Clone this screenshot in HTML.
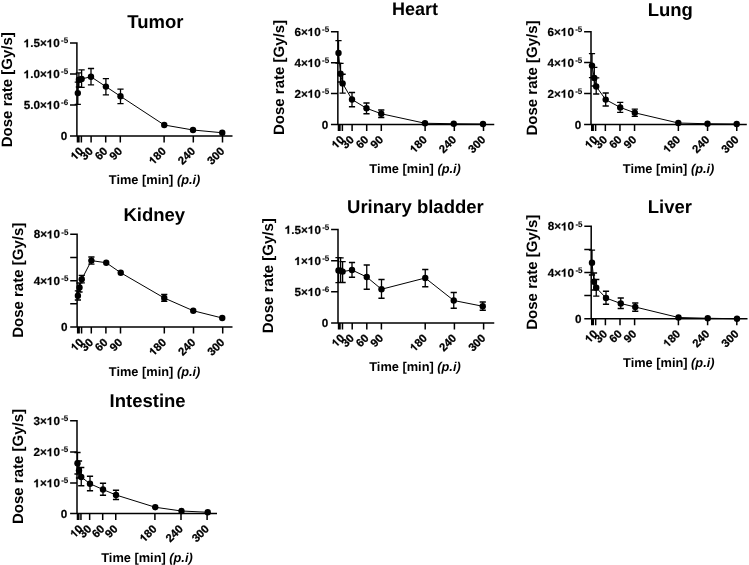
<!DOCTYPE html>
<html><head><meta charset="utf-8"><title>Dose rate</title>
<style>
html,body{margin:0;padding:0;background:#fff;}
svg{display:block;text-rendering:geometricPrecision;will-change:transform;filter:grayscale(1);font-family:"Liberation Sans",sans-serif;font-weight:bold;fill:#000;}
.ax{stroke:#000;stroke-width:1.5;fill:none;}
.eb{stroke:#000;stroke-width:1.3;fill:none;}
.ln{stroke:#000;stroke-width:1;fill:none;}
.tt{font-size:18.5px;text-anchor:middle;}
.yl{font-size:15px;text-anchor:middle;}
.xl{font-size:12.8px;text-anchor:middle;}
.yt{font-size:11.7px;text-anchor:end;stroke:#000;stroke-width:0.2px;}
.xt{font-size:11.3px;text-anchor:end;stroke:#000;stroke-width:0.3px;}
.sp{font-size:8px;}
.ytm{font-size:11.7px;stroke:#000;stroke-width:0.2px;}
.yts{font-size:8px;stroke:#000;stroke-width:0.1px;}
.xtm{font-size:11.3px;stroke:#000;stroke-width:0.25px;}
</style></head><body>
<svg width="749" height="565" viewBox="0 0 749 565">
<rect width="749" height="565" fill="#fff" stroke="none"/>
<g>
<text class="tt" x="155.4" y="27.8">Tumor</text>
<text class="yl" transform="translate(11.6,89.7) rotate(-90)">Dose rate [Gy/s]</text>
<text class="xl" x="154.6" y="184.3">Time [min] <tspan font-style="italic">(p.i)</tspan></text>
<path class="ax" d="M76.9,42.25V136.0M70.0,136.0H232.5M70.0,43H76.9M70.0,74H76.9M70.0,105H76.9M77.47,136.0V142.5M78.93,136.0V142.5M81.37,136.0V142.5M91.1,136.0V142.5M105.7,136.0V142.5M120.3,136.0V142.5M164.11,136.0V142.5M193.31,136.0V142.5M222.51,136.0V142.5"/>
<path d="M759,0H478V1013.6Q324,875.8 115,809.7V1053.8Q225,1088.3 354,1184.5Q483,1280.7 531,1409H759Z" transform="translate(23.68,47.20) scale(0.00571,-0.00571)" stroke="#000" stroke-width="35.0"/><text class="ytm" x="30.18" y="47.20">.5×</text><path d="M759,0H478V1013.6Q324,875.8 115,809.7V1053.8Q225,1088.3 354,1184.5Q483,1280.7 531,1409H759Z" transform="translate(46.77,47.20) scale(0.00571,-0.00571)" stroke="#000" stroke-width="35.0"/><text class="ytm" x="53.28" y="47.20">0</text><text class="yts" x="61.09" y="43.30">-5</text>
<path d="M759,0H478V1013.6Q324,875.8 115,809.7V1053.8Q225,1088.3 354,1184.5Q483,1280.7 531,1409H759Z" transform="translate(23.68,78.20) scale(0.00571,-0.00571)" stroke="#000" stroke-width="35.0"/><text class="ytm" x="30.18" y="78.20">.0×</text><path d="M759,0H478V1013.6Q324,875.8 115,809.7V1053.8Q225,1088.3 354,1184.5Q483,1280.7 531,1409H759Z" transform="translate(46.77,78.20) scale(0.00571,-0.00571)" stroke="#000" stroke-width="35.0"/><text class="ytm" x="53.28" y="78.20">0</text><text class="yts" x="61.09" y="74.30">-5</text>
<text class="ytm" x="23.68" y="109.20">5.0×</text><path d="M759,0H478V1013.6Q324,875.8 115,809.7V1053.8Q225,1088.3 354,1184.5Q483,1280.7 531,1409H759Z" transform="translate(46.77,109.20) scale(0.00571,-0.00571)" stroke="#000" stroke-width="35.0"/><text class="ytm" x="53.28" y="109.20">0</text><text class="yts" x="61.09" y="105.30">-6</text>
<text class="ytm" x="60.69" y="140.20">0</text>
<g transform="translate(83.97,151.90) rotate(-45)"><path d="M759,0H478V1013.6Q324,875.8 115,809.7V1053.8Q225,1088.3 354,1184.5Q483,1280.7 531,1409H759Z" transform="translate(-12.57,0.00) scale(0.00552,-0.00552)" stroke="#000" stroke-width="45.3"/><text class="xtm" x="-6.28" y="0.00">0</text></g>
<g transform="translate(93.70,151.90) rotate(-45)"><text class="xtm" x="-12.57" y="0.00">30</text></g>
<g transform="translate(108.30,151.90) rotate(-45)"><text class="xtm" x="-12.57" y="0.00">60</text></g>
<g transform="translate(122.90,151.90) rotate(-45)"><text class="xtm" x="-12.57" y="0.00">90</text></g>
<g transform="translate(166.71,151.90) rotate(-45)"><path d="M759,0H478V1013.6Q324,875.8 115,809.7V1053.8Q225,1088.3 354,1184.5Q483,1280.7 531,1409H759Z" transform="translate(-18.85,0.00) scale(0.00552,-0.00552)" stroke="#000" stroke-width="45.3"/><text class="xtm" x="-12.57" y="0.00">80</text></g>
<g transform="translate(195.91,151.90) rotate(-45)"><text class="xtm" x="-18.85" y="0.00">240</text></g>
<g transform="translate(225.11,151.90) rotate(-45)"><text class="xtm" x="-18.85" y="0.00">300</text></g>
<polyline class="ln" points="77.8,93.1 78.9,79.8 81.6,78.9 91.0,76.8 105.9,86.6 120.5,96.3 164.25,125 193,130 222.25,132.75"/>
<path class="eb" d="M77.8,82.1V104.4M74.7,82.1H80.89999999999999M74.7,104.4H80.89999999999999M78.9,72.9V87M75.80000000000001,72.9H82.0M75.80000000000001,87H82.0M81.6,69.8V87.4M78.5,69.8H84.69999999999999M78.5,87.4H84.69999999999999M91.0,68.5V84.8M87.9,68.5H94.1M87.9,84.8H94.1M105.9,78.6V94.8M102.80000000000001,78.6H109.0M102.80000000000001,94.8H109.0M120.5,89.1V103.7M117.4,89.1H123.6M117.4,103.7H123.6"/>
<circle cx="77.8" cy="93.1" r="3.2"/>
<circle cx="78.9" cy="79.8" r="3.2"/>
<circle cx="81.6" cy="78.9" r="3.2"/>
<circle cx="91.0" cy="76.8" r="3.2"/>
<circle cx="105.9" cy="86.6" r="3.2"/>
<circle cx="120.5" cy="96.3" r="3.2"/>
<circle cx="164.25" cy="125" r="3.2"/>
<circle cx="193" cy="130" r="3.2"/>
<circle cx="222.25" cy="132.75" r="3.2"/>
</g>
<g>
<text class="tt" x="415.1" y="15.2" style="font-size:18px">Heart</text>
<text class="yl" transform="translate(283.8,77.5) rotate(-90)">Dose rate [Gy/s]</text>
<text class="xl" x="415.1" y="173.25">Time [min] <tspan font-style="italic">(p.i)</tspan></text>
<path class="ax" d="M337.85,31.0V124.5M330.95000000000005,124.5H494.25M330.95000000000005,31.75H337.85M330.95000000000005,62.75H337.85M330.95000000000005,93.5H337.85M338.47,124.5V131.0M339.93,124.5V131.0M342.37,124.5V131.0M352.1,124.5V131.0M366.7,124.5V131.0M381.3,124.5V131.0M425.11,124.5V131.0M454.31,124.5V131.0M483.51,124.5V131.0"/>
<text class="ytm" x="294.38" y="35.95">6×</text><path d="M759,0H478V1013.6Q324,875.8 115,809.7V1053.8Q225,1088.3 354,1184.5Q483,1280.7 531,1409H759Z" transform="translate(307.72,35.95) scale(0.00571,-0.00571)" stroke="#000" stroke-width="35.0"/><text class="ytm" x="314.23" y="35.95">0</text><text class="yts" x="322.04" y="32.05">-5</text>
<text class="ytm" x="294.38" y="66.95">4×</text><path d="M759,0H478V1013.6Q324,875.8 115,809.7V1053.8Q225,1088.3 354,1184.5Q483,1280.7 531,1409H759Z" transform="translate(307.72,66.95) scale(0.00571,-0.00571)" stroke="#000" stroke-width="35.0"/><text class="ytm" x="314.23" y="66.95">0</text><text class="yts" x="322.04" y="63.05">-5</text>
<text class="ytm" x="294.38" y="97.70">2×</text><path d="M759,0H478V1013.6Q324,875.8 115,809.7V1053.8Q225,1088.3 354,1184.5Q483,1280.7 531,1409H759Z" transform="translate(307.72,97.70) scale(0.00571,-0.00571)" stroke="#000" stroke-width="35.0"/><text class="ytm" x="314.23" y="97.70">0</text><text class="yts" x="322.04" y="93.80">-5</text>
<text class="ytm" x="321.64" y="128.70">0</text>
<g transform="translate(344.97,140.40) rotate(-45)"><path d="M759,0H478V1013.6Q324,875.8 115,809.7V1053.8Q225,1088.3 354,1184.5Q483,1280.7 531,1409H759Z" transform="translate(-12.57,0.00) scale(0.00552,-0.00552)" stroke="#000" stroke-width="45.3"/><text class="xtm" x="-6.28" y="0.00">0</text></g>
<g transform="translate(354.70,140.40) rotate(-45)"><text class="xtm" x="-12.57" y="0.00">30</text></g>
<g transform="translate(369.30,140.40) rotate(-45)"><text class="xtm" x="-12.57" y="0.00">60</text></g>
<g transform="translate(383.90,140.40) rotate(-45)"><text class="xtm" x="-12.57" y="0.00">90</text></g>
<g transform="translate(427.71,140.40) rotate(-45)"><path d="M759,0H478V1013.6Q324,875.8 115,809.7V1053.8Q225,1088.3 354,1184.5Q483,1280.7 531,1409H759Z" transform="translate(-18.85,0.00) scale(0.00552,-0.00552)" stroke="#000" stroke-width="45.3"/><text class="xtm" x="-12.57" y="0.00">80</text></g>
<g transform="translate(456.91,140.40) rotate(-45)"><text class="xtm" x="-18.85" y="0.00">240</text></g>
<g transform="translate(486.11,140.40) rotate(-45)"><text class="xtm" x="-18.85" y="0.00">300</text></g>
<polyline class="ln" points="338.5,53 340.5,73.75 342.6,83.4 352,99.5 366.5,108.25 381.25,113.75 425,123.25 453.75,123.75 483,124"/>
<path class="eb" d="M338.5,40.6V63.2M335.4,40.6H341.6M335.4,63.2H341.6M340.5,63.4V82M337.4,63.4H343.6M337.4,82H343.6M342.6,74.25V93.1M339.5,74.25H345.70000000000005M339.5,93.1H345.70000000000005M352,92.5V106.75M348.9,92.5H355.1M348.9,106.75H355.1M366.5,103V113.75M363.4,103H369.6M363.4,113.75H369.6M381.25,110V117.5M378.15,110H384.35M378.15,117.5H384.35"/>
<circle cx="338.5" cy="53" r="3.2"/>
<circle cx="340.5" cy="73.75" r="3.2"/>
<circle cx="342.6" cy="83.4" r="3.2"/>
<circle cx="352" cy="99.5" r="3.2"/>
<circle cx="366.5" cy="108.25" r="3.2"/>
<circle cx="381.25" cy="113.75" r="3.2"/>
<circle cx="425" cy="123.25" r="3.2"/>
<circle cx="453.75" cy="123.75" r="3.2"/>
<circle cx="483" cy="124" r="3.2"/>
</g>
<g>
<text class="tt" x="670.3" y="15.6">Lung</text>
<text class="yl" transform="translate(537.2,78.0) rotate(-90)">Dose rate [Gy/s]</text>
<text class="xl" x="668.6" y="173.25">Time [min] <tspan font-style="italic">(p.i)</tspan></text>
<path class="ax" d="M591.0,31.0V124.5M584.1,124.5H746.8M584.1,31.75H591.0M584.1,62.5H591.0M584.1,93.5H591.0M591.72,124.5V131.0M593.18,124.5V131.0M595.62,124.5V131.0M605.35,124.5V131.0M619.95,124.5V131.0M634.55,124.5V131.0M678.36,124.5V131.0M707.56,124.5V131.0M736.76,124.5V131.0"/>
<text class="ytm" x="547.53" y="35.95">6×</text><path d="M759,0H478V1013.6Q324,875.8 115,809.7V1053.8Q225,1088.3 354,1184.5Q483,1280.7 531,1409H759Z" transform="translate(560.87,35.95) scale(0.00571,-0.00571)" stroke="#000" stroke-width="35.0"/><text class="ytm" x="567.38" y="35.95">0</text><text class="yts" x="575.19" y="32.05">-5</text>
<text class="ytm" x="547.53" y="66.70">4×</text><path d="M759,0H478V1013.6Q324,875.8 115,809.7V1053.8Q225,1088.3 354,1184.5Q483,1280.7 531,1409H759Z" transform="translate(560.87,66.70) scale(0.00571,-0.00571)" stroke="#000" stroke-width="35.0"/><text class="ytm" x="567.38" y="66.70">0</text><text class="yts" x="575.19" y="62.80">-5</text>
<text class="ytm" x="547.53" y="97.70">2×</text><path d="M759,0H478V1013.6Q324,875.8 115,809.7V1053.8Q225,1088.3 354,1184.5Q483,1280.7 531,1409H759Z" transform="translate(560.87,97.70) scale(0.00571,-0.00571)" stroke="#000" stroke-width="35.0"/><text class="ytm" x="567.38" y="97.70">0</text><text class="yts" x="575.19" y="93.80">-5</text>
<text class="ytm" x="574.79" y="128.70">0</text>
<g transform="translate(598.22,140.40) rotate(-45)"><path d="M759,0H478V1013.6Q324,875.8 115,809.7V1053.8Q225,1088.3 354,1184.5Q483,1280.7 531,1409H759Z" transform="translate(-12.57,0.00) scale(0.00552,-0.00552)" stroke="#000" stroke-width="45.3"/><text class="xtm" x="-6.28" y="0.00">0</text></g>
<g transform="translate(607.95,140.40) rotate(-45)"><text class="xtm" x="-12.57" y="0.00">30</text></g>
<g transform="translate(622.55,140.40) rotate(-45)"><text class="xtm" x="-12.57" y="0.00">60</text></g>
<g transform="translate(637.15,140.40) rotate(-45)"><text class="xtm" x="-12.57" y="0.00">90</text></g>
<g transform="translate(680.96,140.40) rotate(-45)"><path d="M759,0H478V1013.6Q324,875.8 115,809.7V1053.8Q225,1088.3 354,1184.5Q483,1280.7 531,1409H759Z" transform="translate(-18.85,0.00) scale(0.00552,-0.00552)" stroke="#000" stroke-width="45.3"/><text class="xtm" x="-12.57" y="0.00">80</text></g>
<g transform="translate(710.16,140.40) rotate(-45)"><text class="xtm" x="-18.85" y="0.00">240</text></g>
<g transform="translate(739.36,140.40) rotate(-45)"><text class="xtm" x="-18.85" y="0.00">300</text></g>
<polyline class="ln" points="592,65.6 594.3,78.0 596.2,86.5 605.7,99.6 620.2,107.4 634.8,112.8 678.3,123 707.5,123.75 736.7,124"/>
<path class="eb" d="M592,53.6V77.6M588.9,53.6H595.1M588.9,77.6H595.1M594.3,67.4V86M591.1999999999999,67.4H597.4M591.1999999999999,86H597.4M596.2,77.8V94.0M593.1,77.8H599.3000000000001M593.1,94.0H599.3000000000001M605.7,93V106M602.6,93H608.8000000000001M602.6,106H608.8000000000001M620.2,102.3V112.3M617.1,102.3H623.3000000000001M617.1,112.3H623.3000000000001M634.8,109.1V116.4M631.6999999999999,109.1H637.9M631.6999999999999,116.4H637.9"/>
<circle cx="592" cy="65.6" r="3.2"/>
<circle cx="594.3" cy="78.0" r="3.2"/>
<circle cx="596.2" cy="86.5" r="3.2"/>
<circle cx="605.7" cy="99.6" r="3.2"/>
<circle cx="620.2" cy="107.4" r="3.2"/>
<circle cx="634.8" cy="112.8" r="3.2"/>
<circle cx="678.3" cy="123" r="3.2"/>
<circle cx="707.5" cy="123.75" r="3.2"/>
<circle cx="736.7" cy="124" r="3.2"/>
</g>
<g>
<text class="tt" x="154.25" y="220.75">Kidney</text>
<text class="yl" transform="translate(23.0,280.3) rotate(-90)">Dose rate [Gy/s]</text>
<text class="xl" x="154.6" y="376">Time [min] <tspan font-style="italic">(p.i)</tspan></text>
<path class="ax" d="M77.1,233.5V327.1M70.19999999999999,327.1H232.5M70.19999999999999,234.25H77.1M70.19999999999999,280.75H77.1M70.19999999999999,257.5H77.1M70.19999999999999,303.75H77.1M77.67,327.1V333.6M79.13,327.1V333.6M81.57,327.1V333.6M91.3,327.1V333.6M105.9,327.1V333.6M120.5,327.1V333.6M164.31,327.1V333.6M193.51,327.1V333.6M222.71,327.1V333.6"/>
<text class="ytm" x="33.63" y="238.45">8×</text><path d="M759,0H478V1013.6Q324,875.8 115,809.7V1053.8Q225,1088.3 354,1184.5Q483,1280.7 531,1409H759Z" transform="translate(46.97,238.45) scale(0.00571,-0.00571)" stroke="#000" stroke-width="35.0"/><text class="ytm" x="53.48" y="238.45">0</text><text class="yts" x="61.29" y="234.55">-5</text>
<text class="ytm" x="33.63" y="284.95">4×</text><path d="M759,0H478V1013.6Q324,875.8 115,809.7V1053.8Q225,1088.3 354,1184.5Q483,1280.7 531,1409H759Z" transform="translate(46.97,284.95) scale(0.00571,-0.00571)" stroke="#000" stroke-width="35.0"/><text class="ytm" x="53.48" y="284.95">0</text><text class="yts" x="61.29" y="281.05">-5</text>
<text class="ytm" x="60.89" y="331.30">0</text>
<g transform="translate(84.17,343.00) rotate(-45)"><path d="M759,0H478V1013.6Q324,875.8 115,809.7V1053.8Q225,1088.3 354,1184.5Q483,1280.7 531,1409H759Z" transform="translate(-12.57,0.00) scale(0.00552,-0.00552)" stroke="#000" stroke-width="45.3"/><text class="xtm" x="-6.28" y="0.00">0</text></g>
<g transform="translate(93.90,343.00) rotate(-45)"><text class="xtm" x="-12.57" y="0.00">30</text></g>
<g transform="translate(108.50,343.00) rotate(-45)"><text class="xtm" x="-12.57" y="0.00">60</text></g>
<g transform="translate(123.10,343.00) rotate(-45)"><text class="xtm" x="-12.57" y="0.00">90</text></g>
<g transform="translate(166.91,343.00) rotate(-45)"><path d="M759,0H478V1013.6Q324,875.8 115,809.7V1053.8Q225,1088.3 354,1184.5Q483,1280.7 531,1409H759Z" transform="translate(-18.85,0.00) scale(0.00552,-0.00552)" stroke="#000" stroke-width="45.3"/><text class="xtm" x="-12.57" y="0.00">80</text></g>
<g transform="translate(196.11,343.00) rotate(-45)"><text class="xtm" x="-18.85" y="0.00">240</text></g>
<g transform="translate(225.31,343.00) rotate(-45)"><text class="xtm" x="-18.85" y="0.00">300</text></g>
<polyline class="ln" points="77.9,295.8 79.5,287.4 81.75,279.3 91.4,260.6 106.25,262.75 120.75,272.75 164.25,298 193.25,310.75 222.25,318"/>
<path class="eb" d="M77.9,290.8V300M74.80000000000001,290.8H81.0M74.80000000000001,300H81.0M79.5,283V292M76.4,283H82.6M76.4,292H82.6M81.75,275.4V282.8M78.65,275.4H84.85M78.65,282.8H84.85M91.4,257.0V264.1M88.30000000000001,257.0H94.5M88.30000000000001,264.1H94.5M164.25,294.5V301.25M161.15,294.5H167.35M161.15,301.25H167.35"/>
<circle cx="77.9" cy="295.8" r="3.2"/>
<circle cx="79.5" cy="287.4" r="3.2"/>
<circle cx="81.75" cy="279.3" r="3.2"/>
<circle cx="91.4" cy="260.6" r="3.2"/>
<circle cx="106.25" cy="262.75" r="3.2"/>
<circle cx="120.75" cy="272.75" r="3.2"/>
<circle cx="164.25" cy="298" r="3.2"/>
<circle cx="193.25" cy="310.75" r="3.2"/>
<circle cx="222.25" cy="318" r="3.2"/>
</g>
<g>
<text class="tt" x="415.4" y="213.4">Urinary bladder</text>
<text class="yl" transform="translate(273.0,275.7) rotate(-90)">Dose rate [Gy/s]</text>
<text class="xl" x="415.0" y="371.1">Time [min] <tspan font-style="italic">(p.i)</tspan></text>
<path class="ax" d="M338.0,228.75V322.9M331.1,322.9H494.25M331.1,229.5H338.0M331.1,260.75H338.0M331.1,291.75H338.0M338.57,322.9V329.4M340.03,322.9V329.4M342.47,322.9V329.4M352.2,322.9V329.4M366.8,322.9V329.4M381.4,322.9V329.4M425.21,322.9V329.4M454.41,322.9V329.4M483.61,322.9V329.4"/>
<path d="M759,0H478V1013.6Q324,875.8 115,809.7V1053.8Q225,1088.3 354,1184.5Q483,1280.7 531,1409H759Z" transform="translate(284.78,233.70) scale(0.00571,-0.00571)" stroke="#000" stroke-width="35.0"/><text class="ytm" x="291.28" y="233.70">.5×</text><path d="M759,0H478V1013.6Q324,875.8 115,809.7V1053.8Q225,1088.3 354,1184.5Q483,1280.7 531,1409H759Z" transform="translate(307.87,233.70) scale(0.00571,-0.00571)" stroke="#000" stroke-width="35.0"/><text class="ytm" x="314.38" y="233.70">0</text><text class="yts" x="322.19" y="229.80">-5</text>
<path d="M759,0H478V1013.6Q324,875.8 115,809.7V1053.8Q225,1088.3 354,1184.5Q483,1280.7 531,1409H759Z" transform="translate(294.53,264.95) scale(0.00571,-0.00571)" stroke="#000" stroke-width="35.0"/><text class="ytm" x="301.04" y="264.95">×</text><path d="M759,0H478V1013.6Q324,875.8 115,809.7V1053.8Q225,1088.3 354,1184.5Q483,1280.7 531,1409H759Z" transform="translate(307.87,264.95) scale(0.00571,-0.00571)" stroke="#000" stroke-width="35.0"/><text class="ytm" x="314.38" y="264.95">0</text><text class="yts" x="322.19" y="261.05">-5</text>
<text class="ytm" x="294.53" y="295.95">5×</text><path d="M759,0H478V1013.6Q324,875.8 115,809.7V1053.8Q225,1088.3 354,1184.5Q483,1280.7 531,1409H759Z" transform="translate(307.87,295.95) scale(0.00571,-0.00571)" stroke="#000" stroke-width="35.0"/><text class="ytm" x="314.38" y="295.95">0</text><text class="yts" x="322.19" y="292.05">-6</text>
<text class="ytm" x="321.79" y="327.10">0</text>
<g transform="translate(345.07,338.80) rotate(-45)"><path d="M759,0H478V1013.6Q324,875.8 115,809.7V1053.8Q225,1088.3 354,1184.5Q483,1280.7 531,1409H759Z" transform="translate(-12.57,0.00) scale(0.00552,-0.00552)" stroke="#000" stroke-width="45.3"/><text class="xtm" x="-6.28" y="0.00">0</text></g>
<g transform="translate(354.80,338.80) rotate(-45)"><text class="xtm" x="-12.57" y="0.00">30</text></g>
<g transform="translate(369.40,338.80) rotate(-45)"><text class="xtm" x="-12.57" y="0.00">60</text></g>
<g transform="translate(384.00,338.80) rotate(-45)"><text class="xtm" x="-12.57" y="0.00">90</text></g>
<g transform="translate(427.81,338.80) rotate(-45)"><path d="M759,0H478V1013.6Q324,875.8 115,809.7V1053.8Q225,1088.3 354,1184.5Q483,1280.7 531,1409H759Z" transform="translate(-18.85,0.00) scale(0.00552,-0.00552)" stroke="#000" stroke-width="45.3"/><text class="xtm" x="-12.57" y="0.00">80</text></g>
<g transform="translate(457.01,338.80) rotate(-45)"><text class="xtm" x="-18.85" y="0.00">240</text></g>
<g transform="translate(486.21,338.80) rotate(-45)"><text class="xtm" x="-18.85" y="0.00">300</text></g>
<polyline class="ln" points="338.5,270.5 340.6,270.6 342.6,271.6 352,270 366.75,277 381.5,289.25 425.25,278 453.75,300.5 482.75,306.25"/>
<path class="eb" d="M338.5,257.6V282.6M335.4,257.6H341.6M335.4,282.6H341.6M340.6,257.8V282.4M337.5,257.8H343.70000000000005M337.5,282.4H343.70000000000005M342.6,261.6V282.5M339.5,261.6H345.70000000000005M339.5,282.5H345.70000000000005M352,262.5V277.25M348.9,262.5H355.1M348.9,277.25H355.1M366.75,265V289.25M363.65,265H369.85M363.65,289.25H369.85M381.5,279.5V298.25M378.4,279.5H384.6M378.4,298.25H384.6M425.25,269.5V286.75M422.15,269.5H428.35M422.15,286.75H428.35M453.75,292.5V308.25M450.65,292.5H456.85M450.65,308.25H456.85M482.75,302V310.25M479.65,302H485.85M479.65,310.25H485.85"/>
<circle cx="338.5" cy="270.5" r="3.2"/>
<circle cx="340.6" cy="270.6" r="3.2"/>
<circle cx="342.6" cy="271.6" r="3.2"/>
<circle cx="352" cy="270" r="3.2"/>
<circle cx="366.75" cy="277" r="3.2"/>
<circle cx="381.5" cy="289.25" r="3.2"/>
<circle cx="425.25" cy="278" r="3.2"/>
<circle cx="453.75" cy="300.5" r="3.2"/>
<circle cx="482.75" cy="306.25" r="3.2"/>
</g>
<g>
<text class="tt" x="669.9" y="212.5">Liver</text>
<text class="yl" transform="translate(537.2,272.2) rotate(-90)">Dose rate [Gy/s]</text>
<text class="xl" x="668.8" y="367.3">Time [min] <tspan font-style="italic">(p.i)</tspan></text>
<path class="ax" d="M591.2,225.5V318.7M584.3000000000001,318.7H747.5M584.3000000000001,226.25H591.2M584.3000000000001,272.5H591.2M584.3000000000001,249.5H591.2M584.3000000000001,295.5H591.2M591.77,318.7V325.2M593.23,318.7V325.2M595.67,318.7V325.2M605.4,318.7V325.2M620.0,318.7V325.2M634.6,318.7V325.2M678.41,318.7V325.2M707.61,318.7V325.2M736.81,318.7V325.2"/>
<text class="ytm" x="547.73" y="230.45">8×</text><path d="M759,0H478V1013.6Q324,875.8 115,809.7V1053.8Q225,1088.3 354,1184.5Q483,1280.7 531,1409H759Z" transform="translate(561.07,230.45) scale(0.00571,-0.00571)" stroke="#000" stroke-width="35.0"/><text class="ytm" x="567.58" y="230.45">0</text><text class="yts" x="575.39" y="226.55">-5</text>
<text class="ytm" x="547.73" y="276.70">4×</text><path d="M759,0H478V1013.6Q324,875.8 115,809.7V1053.8Q225,1088.3 354,1184.5Q483,1280.7 531,1409H759Z" transform="translate(561.07,276.70) scale(0.00571,-0.00571)" stroke="#000" stroke-width="35.0"/><text class="ytm" x="567.58" y="276.70">0</text><text class="yts" x="575.39" y="272.80">-5</text>
<text class="ytm" x="574.99" y="322.90">0</text>
<g transform="translate(598.27,334.60) rotate(-45)"><path d="M759,0H478V1013.6Q324,875.8 115,809.7V1053.8Q225,1088.3 354,1184.5Q483,1280.7 531,1409H759Z" transform="translate(-12.57,0.00) scale(0.00552,-0.00552)" stroke="#000" stroke-width="45.3"/><text class="xtm" x="-6.28" y="0.00">0</text></g>
<g transform="translate(608.00,334.60) rotate(-45)"><text class="xtm" x="-12.57" y="0.00">30</text></g>
<g transform="translate(622.60,334.60) rotate(-45)"><text class="xtm" x="-12.57" y="0.00">60</text></g>
<g transform="translate(637.20,334.60) rotate(-45)"><text class="xtm" x="-12.57" y="0.00">90</text></g>
<g transform="translate(681.01,334.60) rotate(-45)"><path d="M759,0H478V1013.6Q324,875.8 115,809.7V1053.8Q225,1088.3 354,1184.5Q483,1280.7 531,1409H759Z" transform="translate(-18.85,0.00) scale(0.00552,-0.00552)" stroke="#000" stroke-width="45.3"/><text class="xtm" x="-12.57" y="0.00">80</text></g>
<g transform="translate(710.21,334.60) rotate(-45)"><text class="xtm" x="-18.85" y="0.00">240</text></g>
<g transform="translate(739.41,334.60) rotate(-45)"><text class="xtm" x="-18.85" y="0.00">300</text></g>
<polyline class="ln" points="592,262.75 594,281.75 596.25,287.75 606,298 620.75,303.5 635.25,307 678.5,317.5 707.75,318.25 737,318.75"/>
<path class="eb" d="M592,250.2V275M588.9,250.2H595.1M588.9,275H595.1M594,273V290M590.9,273H597.1M590.9,290H597.1M596.25,279.5V296.2M593.15,279.5H599.35M593.15,296.2H599.35M606,291.25V304.25M602.9,291.25H609.1M602.9,304.25H609.1M620.75,298V308.5M617.65,298H623.85M617.65,308.5H623.85M635.25,303V311.25M632.15,303H638.35M632.15,311.25H638.35"/>
<circle cx="592" cy="262.75" r="3.2"/>
<circle cx="594" cy="281.75" r="3.2"/>
<circle cx="596.25" cy="287.75" r="3.2"/>
<circle cx="606" cy="298" r="3.2"/>
<circle cx="620.75" cy="303.5" r="3.2"/>
<circle cx="635.25" cy="307" r="3.2"/>
<circle cx="678.5" cy="317.5" r="3.2"/>
<circle cx="707.75" cy="318.25" r="3.2"/>
<circle cx="737" cy="318.75" r="3.2"/>
</g>
<g>
<text class="tt" x="147.6" y="407.3">Intestine</text>
<text class="yl" transform="translate(23.0,466.5) rotate(-90)">Dose rate [Gy/s]</text>
<text class="xl" x="147.0" y="562.3">Time [min] <tspan font-style="italic">(p.i)</tspan></text>
<path class="ax" d="M77.0,420.0V513.6M70.1,513.6H217M70.1,420.75H77.0M70.1,452H77.0M70.1,483H77.0M77.47,513.6V520.1M78.77,513.6V520.1M80.95,513.6V520.1M89.65,513.6V520.1M102.7,513.6V520.1M115.75,513.6V520.1M154.9,513.6V520.1M181.0,513.6V520.1M207.1,513.6V520.1"/>
<text class="ytm" x="33.53" y="424.95">3×</text><path d="M759,0H478V1013.6Q324,875.8 115,809.7V1053.8Q225,1088.3 354,1184.5Q483,1280.7 531,1409H759Z" transform="translate(46.87,424.95) scale(0.00571,-0.00571)" stroke="#000" stroke-width="35.0"/><text class="ytm" x="53.38" y="424.95">0</text><text class="yts" x="61.19" y="421.05">-5</text>
<text class="ytm" x="33.53" y="456.20">2×</text><path d="M759,0H478V1013.6Q324,875.8 115,809.7V1053.8Q225,1088.3 354,1184.5Q483,1280.7 531,1409H759Z" transform="translate(46.87,456.20) scale(0.00571,-0.00571)" stroke="#000" stroke-width="35.0"/><text class="ytm" x="53.38" y="456.20">0</text><text class="yts" x="61.19" y="452.30">-5</text>
<path d="M759,0H478V1013.6Q324,875.8 115,809.7V1053.8Q225,1088.3 354,1184.5Q483,1280.7 531,1409H759Z" transform="translate(33.53,487.20) scale(0.00571,-0.00571)" stroke="#000" stroke-width="35.0"/><text class="ytm" x="40.04" y="487.20">×</text><path d="M759,0H478V1013.6Q324,875.8 115,809.7V1053.8Q225,1088.3 354,1184.5Q483,1280.7 531,1409H759Z" transform="translate(46.87,487.20) scale(0.00571,-0.00571)" stroke="#000" stroke-width="35.0"/><text class="ytm" x="53.38" y="487.20">0</text><text class="yts" x="61.19" y="483.30">-5</text>
<text class="ytm" x="60.79" y="518.10">0</text>
<g transform="translate(83.55,529.50) rotate(-45)"><path d="M759,0H478V1013.6Q324,875.8 115,809.7V1053.8Q225,1088.3 354,1184.5Q483,1280.7 531,1409H759Z" transform="translate(-12.57,0.00) scale(0.00552,-0.00552)" stroke="#000" stroke-width="45.3"/><text class="xtm" x="-6.28" y="0.00">0</text></g>
<g transform="translate(92.25,529.50) rotate(-45)"><text class="xtm" x="-12.57" y="0.00">30</text></g>
<g transform="translate(105.30,529.50) rotate(-45)"><text class="xtm" x="-12.57" y="0.00">60</text></g>
<g transform="translate(118.35,529.50) rotate(-45)"><text class="xtm" x="-12.57" y="0.00">90</text></g>
<g transform="translate(157.50,529.50) rotate(-45)"><path d="M759,0H478V1013.6Q324,875.8 115,809.7V1053.8Q225,1088.3 354,1184.5Q483,1280.7 531,1409H759Z" transform="translate(-18.85,0.00) scale(0.00552,-0.00552)" stroke="#000" stroke-width="45.3"/><text class="xtm" x="-12.57" y="0.00">80</text></g>
<g transform="translate(183.60,529.50) rotate(-45)"><text class="xtm" x="-18.85" y="0.00">240</text></g>
<g transform="translate(209.70,529.50) rotate(-45)"><text class="xtm" x="-18.85" y="0.00">300</text></g>
<polyline class="ln" points="77.5,463.25 79,470.6 81.25,477 90,483.75 103,489.5 116,495 155.25,507.25 181.5,511 207.75,512.25"/>
<path class="eb" d="M77.5,452.5V474M74.4,452.5H80.6M74.4,474H80.6M79,461V478M75.9,461H82.1M75.9,478H82.1M81.25,467.5V485.75M78.15,467.5H84.35M78.15,485.75H84.35M90,476.25V490.75M86.9,476.25H93.1M86.9,490.75H93.1M103,483.25V495.25M99.9,483.25H106.1M99.9,495.25H106.1M116,490.25V499.5M112.9,490.25H119.1M112.9,499.5H119.1"/>
<circle cx="77.5" cy="463.25" r="3.2"/>
<circle cx="79" cy="470.6" r="3.2"/>
<circle cx="81.25" cy="477" r="3.2"/>
<circle cx="90" cy="483.75" r="3.2"/>
<circle cx="103" cy="489.5" r="3.2"/>
<circle cx="116" cy="495" r="3.2"/>
<circle cx="155.25" cy="507.25" r="3.2"/>
<circle cx="181.5" cy="511" r="3.2"/>
<circle cx="207.75" cy="512.25" r="3.2"/>
</g>
</svg>
</body></html>
